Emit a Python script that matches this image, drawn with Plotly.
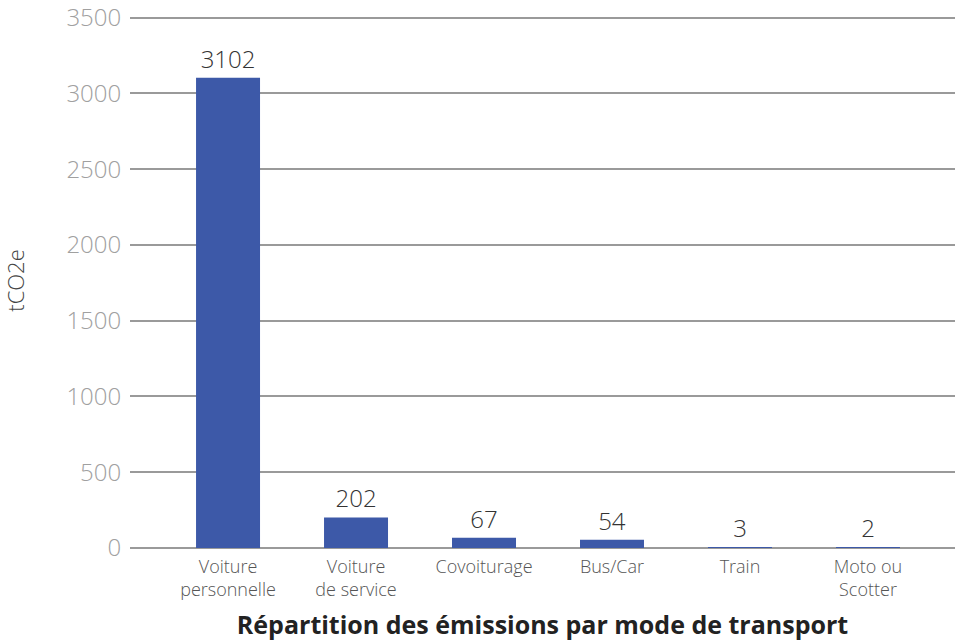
import plotly.graph_objects as go

categories = ["Voiture<br>personnelle", "Voiture<br>de service", "Covoiturage", "Bus/Car", "Train", "Moto ou<br>Scotter"]
values = [3102, 202, 67, 54, 3, 2]
y_ticks = [0, 500, 1000, 1500, 2000, 2500, 3000, 3500]

FONT = "'Open Sans', sans-serif"

fig = go.Figure(go.Bar(
    x=list(range(len(categories))), y=values,
    marker=dict(color="#3d59a8", line=dict(width=0)),
    width=0.5,
    text=[str(v) for v in values], textposition="outside",
    textfont=dict(family=FONT, size=24, color="#333333", weight=300),
    cliponaxis=False,
))

fig.update_layout(
    width=956, height=641,
    margin=dict(l=130, r=1, t=13, b=93),
    paper_bgcolor="white", plot_bgcolor="white",
    showlegend=False,
    font=dict(family=FONT),
    xaxis=dict(
        tickmode="array", tickvals=list(range(len(categories))), ticktext=categories,
        range=[-0.766, 5.68], showgrid=False, zeroline=False, automargin=False,
        tickfont=dict(size=18, color="#555555", weight=300),
        title=dict(text="<b>Répartition des émissions par mode de transport</b>",
                   font=dict(size=25, color="#222222"), standoff=16),
        ticks="outside", ticklen=2, tickcolor="rgba(0,0,0,0)", showline=False,
    ),
    yaxis=dict(
        range=[0, 3530], tickvals=y_ticks, automargin=False,
        ticklabeloverflow="allow",
        showgrid=True, gridcolor="#9a9a9a", gridwidth=2,
        zeroline=True, zerolinecolor="#9a9a9a", zerolinewidth=2,
        tickfont=dict(size=24, color="#a0a0a0", weight=300),
        ticks="outside", ticklen=3, tickcolor="rgba(0,0,0,0)",
        title=dict(text="tCO2e", font=dict(size=22, color="#444444", weight=300), standoff=54),
    ),
)

fig.write_html("out.html", config={"displayModeBar": False},
               post_script="document.body.style.margin='0';")
